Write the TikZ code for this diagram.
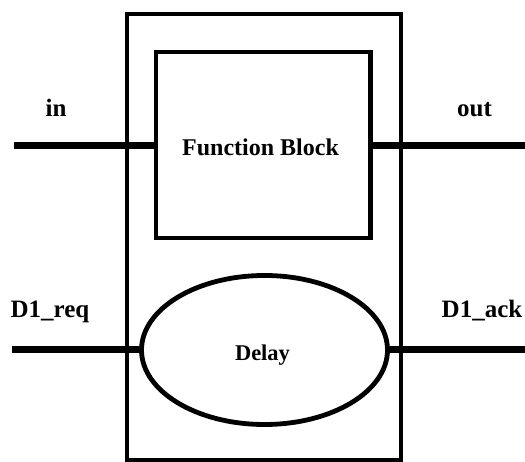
\documentclass[tikz,border=0pt]{standalone}
\usepackage{fontspec}
\setmainfont{Liberation Serif}
\usetikzlibrary{shapes.geometric}
\begin{document}
\begin{tikzpicture}[x=1pt,y=-1pt,
  frame/.style={draw=black,line width=4pt,rectangle,inner sep=0pt},
  blockbox/.style={draw=black,line width=4.2pt,rectangle,inner sep=0pt},
  delaybox/.style={draw=black,line width=4.8pt,ellipse,inner sep=0pt},
  sig/.style={line width=7pt,black},
  lbl/.style={font=\fontsize{25}{27}\selectfont\bfseries,anchor=base,inner sep=0pt}]
\useasboundingbox (0,0) rectangle (525,462);
% enclosing module frame
\node[frame,minimum width=273.5pt,minimum height=446pt] (mod) at (263.75,237) {};
% function block and delay element
\node[blockbox,minimum width=214.5pt,minimum height=186pt] (fb) at (263.25,145) {};
\node[font=\fontsize{24}{26}\selectfont\bfseries,anchor=base,inner sep=0pt] (fbt) at (260.5,156) {Function Block};
\node[delaybox,minimum width=246pt,minimum height=149pt] (dl) at (264.5,350) {};
\node[font=\fontsize{22.5}{24}\selectfont\bfseries,anchor=base,inner sep=0pt] (dlt) at (262.5,360) {Delay};
% free ends of the signal wires
\coordinate (inL) at (14,145.3);
\coordinate (outR) at (525,145.3);
\coordinate (reqL) at (12,350);
\coordinate (ackR) at (525,350);
% signal wires
\draw[sig] (inL) -- (inL -| fb.west);
\draw[sig] (fb.east |- outR) -- (outR);
\draw[sig] (reqL) -- (dl.west);
\draw[sig] (dl.east) -- (ackR);
% signal names
\node[lbl] (inl) at (56,117) {in};
\node[lbl] (outl) at (474.5,117) {out};
\node[lbl] (reql) at (50,318) {D1\_req};
\node[lbl] (ackl) at (482,318) {D1\_ack};
\end{tikzpicture}
\end{document}
